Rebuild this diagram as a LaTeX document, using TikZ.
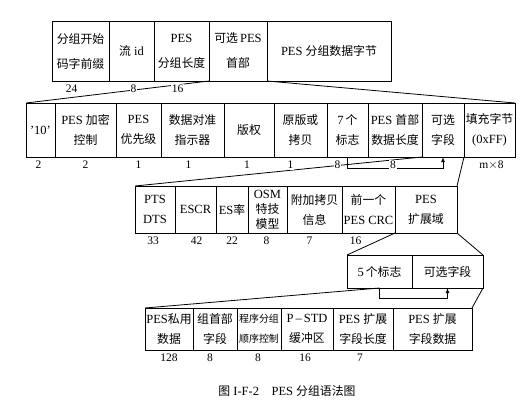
\documentclass[tikz,border=0pt]{standalone}
\usepackage{fontspec}
\setmainfont{Liberation Serif}
\newfontfamily\zh[Scale=0.95]{Noto Sans CJK SC}
\usetikzlibrary{positioning}

\tikzset{
  field/.style={draw, line width=1pt, inner sep=0pt, outer sep=0pt, align=center,
    font=\fontsize{12.5}{20}\selectfont},
  rowone/.style={field, minimum height=60, font=\fontsize{12.5}{25}\selectfont},
  rowtwo/.style={field, minimum height=54},
  rowthree/.style={field, minimum height=47},
  rowfour/.style={field, minimum height=33},
  rowfive/.style={field, minimum height=42},
  bits/.style={font=\fontsize{11.5}{12}\selectfont, fill=white, inner sep=1pt},
  fan/.style={line width=0.8pt}
}

\begin{document}
\begin{tikzpicture}[x=1pt, y=-1pt, >=latex]
    \useasboundingbox (0,0) rectangle (528,416);

    % PES 分组
    \node[rowone, minimum width=57, anchor=north west] (prefix) at (52,21) {{\zh 分组开始}\\{\zh 码字前缀}};
    \node[rowone, minimum width=45, right=0pt of prefix] (streamid) {{\zh 流}\ id};
    \node[rowone, minimum width=55, right=0pt of streamid] (pktlen) {PES\\{\zh 分组长度}};
    \node[rowone, minimum width=58, right=0pt of pktlen] (opthdr) {{\zh 可选}\,PES\\{\zh 首部}};
    \node[rowone, minimum width=124, right=0pt of opthdr] (payload) {PES {\zh 分组数据字节}};

    % 可选 PES 首部
    \node[rowtwo, minimum width=29, anchor=north west] (marker) at (26,103) {'10'};
    \node[rowtwo, minimum width=61, right=0pt of marker] (scramble) {PES {\zh 加密}\\{\zh 控制}};
    \node[rowtwo, minimum width=45, right=0pt of scramble] (prio) {PES\\{\zh 优先级}};
    \node[rowtwo, minimum width=63, right=0pt of prio] (dataalign) {{\zh 数据对准}\\{\zh 指示器}};
    \node[rowtwo, minimum width=50, right=0pt of dataalign] (copyright) {\zh 版权};
    \node[rowtwo, minimum width=53, right=0pt of copyright] (original) {{\zh 原版或}\\{\zh 拷贝}};
    \node[rowtwo, minimum width=41, right=0pt of original] (flags) {7\,{\zh 个}\\{\zh 标志}};
    \node[rowtwo, minimum width=54, right=0pt of flags] (hdrlen) {PES {\zh 首部}\\{\zh 数据长度}};
    \node[rowtwo, minimum width=42, right=0pt of hdrlen] (optfield) {{\zh 可选}\\{\zh 字段}};
    \node[rowtwo, minimum width=51, right=0pt of optfield] (stuffing) {{\zh 填充字节}\\(0xFF)};

    % 可选字段
    \node[rowthree, minimum width=40, anchor=north west] (ptsdts) at (135,186) {PTS\\DTS};
    \node[rowthree, minimum width=41, right=0pt of ptsdts] (escr) {ESCR};
    \node[rowthree, minimum width=32, right=0pt of escr] (esrate) {ES{\zh 率}};
    \node[rowthree, minimum width=39, right=0pt of esrate, font=\fontsize{12.5}{15}\selectfont] (trick) {OSM\\{\zh 特技}\\{\zh 模型}};
    \node[rowthree, minimum width=55, right=0pt of trick] (addcopy) {{\zh 附加拷贝}\\{\zh 信息}};
    \node[rowthree, minimum width=53, right=0pt of addcopy] (prevcrc) {{\zh 前一个}\\PES CRC};
    \node[rowthree, minimum width=62, right=0pt of prevcrc] (ext) {PES\\{\zh 扩展域}};

    % PES 扩展域
    \node[rowfour, minimum width=65, anchor=north west] (extflags) at (347,255) {5\,{\zh 个标志}};
    \node[rowfour, minimum width=71, right=0pt of extflags] (extopt) {\zh 可选字段};

    % 扩展域可选字段
    \node[rowfive, minimum width=48, anchor=north west] (private) at (145,308) {PES{\zh 私用}\\{\zh 数据}};
    \node[rowfive, minimum width=44, right=0pt of private] (packhdr) {{\zh 组首部}\\{\zh 字段}};
    \node[rowfive, minimum width=44, right=0pt of packhdr, font=\fontsize{10.5}{20}\selectfont] (seqctr) {{\zh 程序分组}\\{\zh 顺序控制}};
    \node[rowfive, minimum width=52, right=0pt of seqctr] (pstd) {P\,--\,STD\\{\zh 缓冲区}};
    \node[rowfive, minimum width=60, right=0pt of pstd] (extlen) {PES {\zh 扩展}\\{\zh 字段长度}};
    \node[rowfive, minimum width=79, right=0pt of extlen] (extdata) {PES {\zh 扩展}\\{\zh 字段数据}};

    % 展开线
    \draw[fan] (opthdr.south west) -- (marker.north west);
    \draw[fan] (opthdr.south east) -- (stuffing.north east);
    \draw[fan] (optfield.south west) -- (ptsdts.north west);
    \draw[fan] (optfield.south east) -- (ext.north east);
    \draw[fan] (ext.south west) -- (extflags.north west);
    \draw[fan] (ext.south east) -- (extopt.north east);
    \draw[fan] (extflags.south) -- (private.north west);
    \draw[fan] (extopt.south east) -- (extdata.north east);

    % 标志指向可选字段
    \draw[fan, ->] (flags.south) -- ++(0,11) -| (optfield.south);
    \draw[fan, ->] (extflags.south) -- ++(0,10) -| (extopt.south);

    % 比特数
    \node[bits, below=3pt of prefix, xshift=-9pt] (n-prefix) {24};
    \node[bits, below=3pt of streamid, xshift=2pt] (n-streamid) {8};
    \node[bits, below=3pt of pktlen, xshift=-4pt] (n-pktlen) {16};
    \node[bits, below=3pt of marker, xshift=-2pt] (n-marker) {2};
    \node[bits, below=3pt of scramble] (n-scramble) {2};
    \node[bits, below=3pt of prio] (n-prio) {1};
    \node[bits, below=3pt of dataalign, xshift=-4pt] (n-dataalign) {1};
    \node[bits, below=3pt of copyright, xshift=-2pt] (n-copyright) {1};
    \node[bits, below=3pt of original, xshift=-10pt] (n-original) {1};
    \node[bits, below=3pt of flags, xshift=-10pt] (n-flags) {8};
    \node[bits, below=3pt of hdrlen, xshift=-2pt] (n-hdrlen) {8};
    \node[bits, below=3pt of stuffing, xshift=2pt] (n-stuffing) {m$\times$8};
    \node[bits, below=3pt of ptsdts, xshift=-2pt] (n-ptsdts) {33};
    \node[bits, below=3pt of escr, xshift=1pt] (n-escr) {42};
    \node[bits, below=3pt of esrate] (n-esrate) {22};
    \node[bits, below=3pt of trick, xshift=-1pt] (n-trick) {8};
    \node[bits, below=3pt of addcopy, xshift=-5pt] (n-addcopy) {7};
    \node[bits, below=3pt of prevcrc, xshift=-13pt] (n-prevcrc) {16};
    \node[bits, below=3pt of private] (n-private) {128};
    \node[bits, below=3pt of packhdr, xshift=-5pt] (n-packhdr) {8};
    \node[bits, below=3pt of seqctr, xshift=-1pt] (n-seqctr) {8};
    \node[bits, below=3pt of pstd, xshift=-2pt] (n-pstd) {16};
    \node[bits, below=3pt of extlen, xshift=-3pt] (n-extlen) {7};

    % 图题
    \node[font=\fontsize{12.5}{14}\selectfont] (caption) at (287,391) {{\zh 图}\ I-F-2\quad PES {\zh 分组语法图}};
\end{tikzpicture}
\end{document}
